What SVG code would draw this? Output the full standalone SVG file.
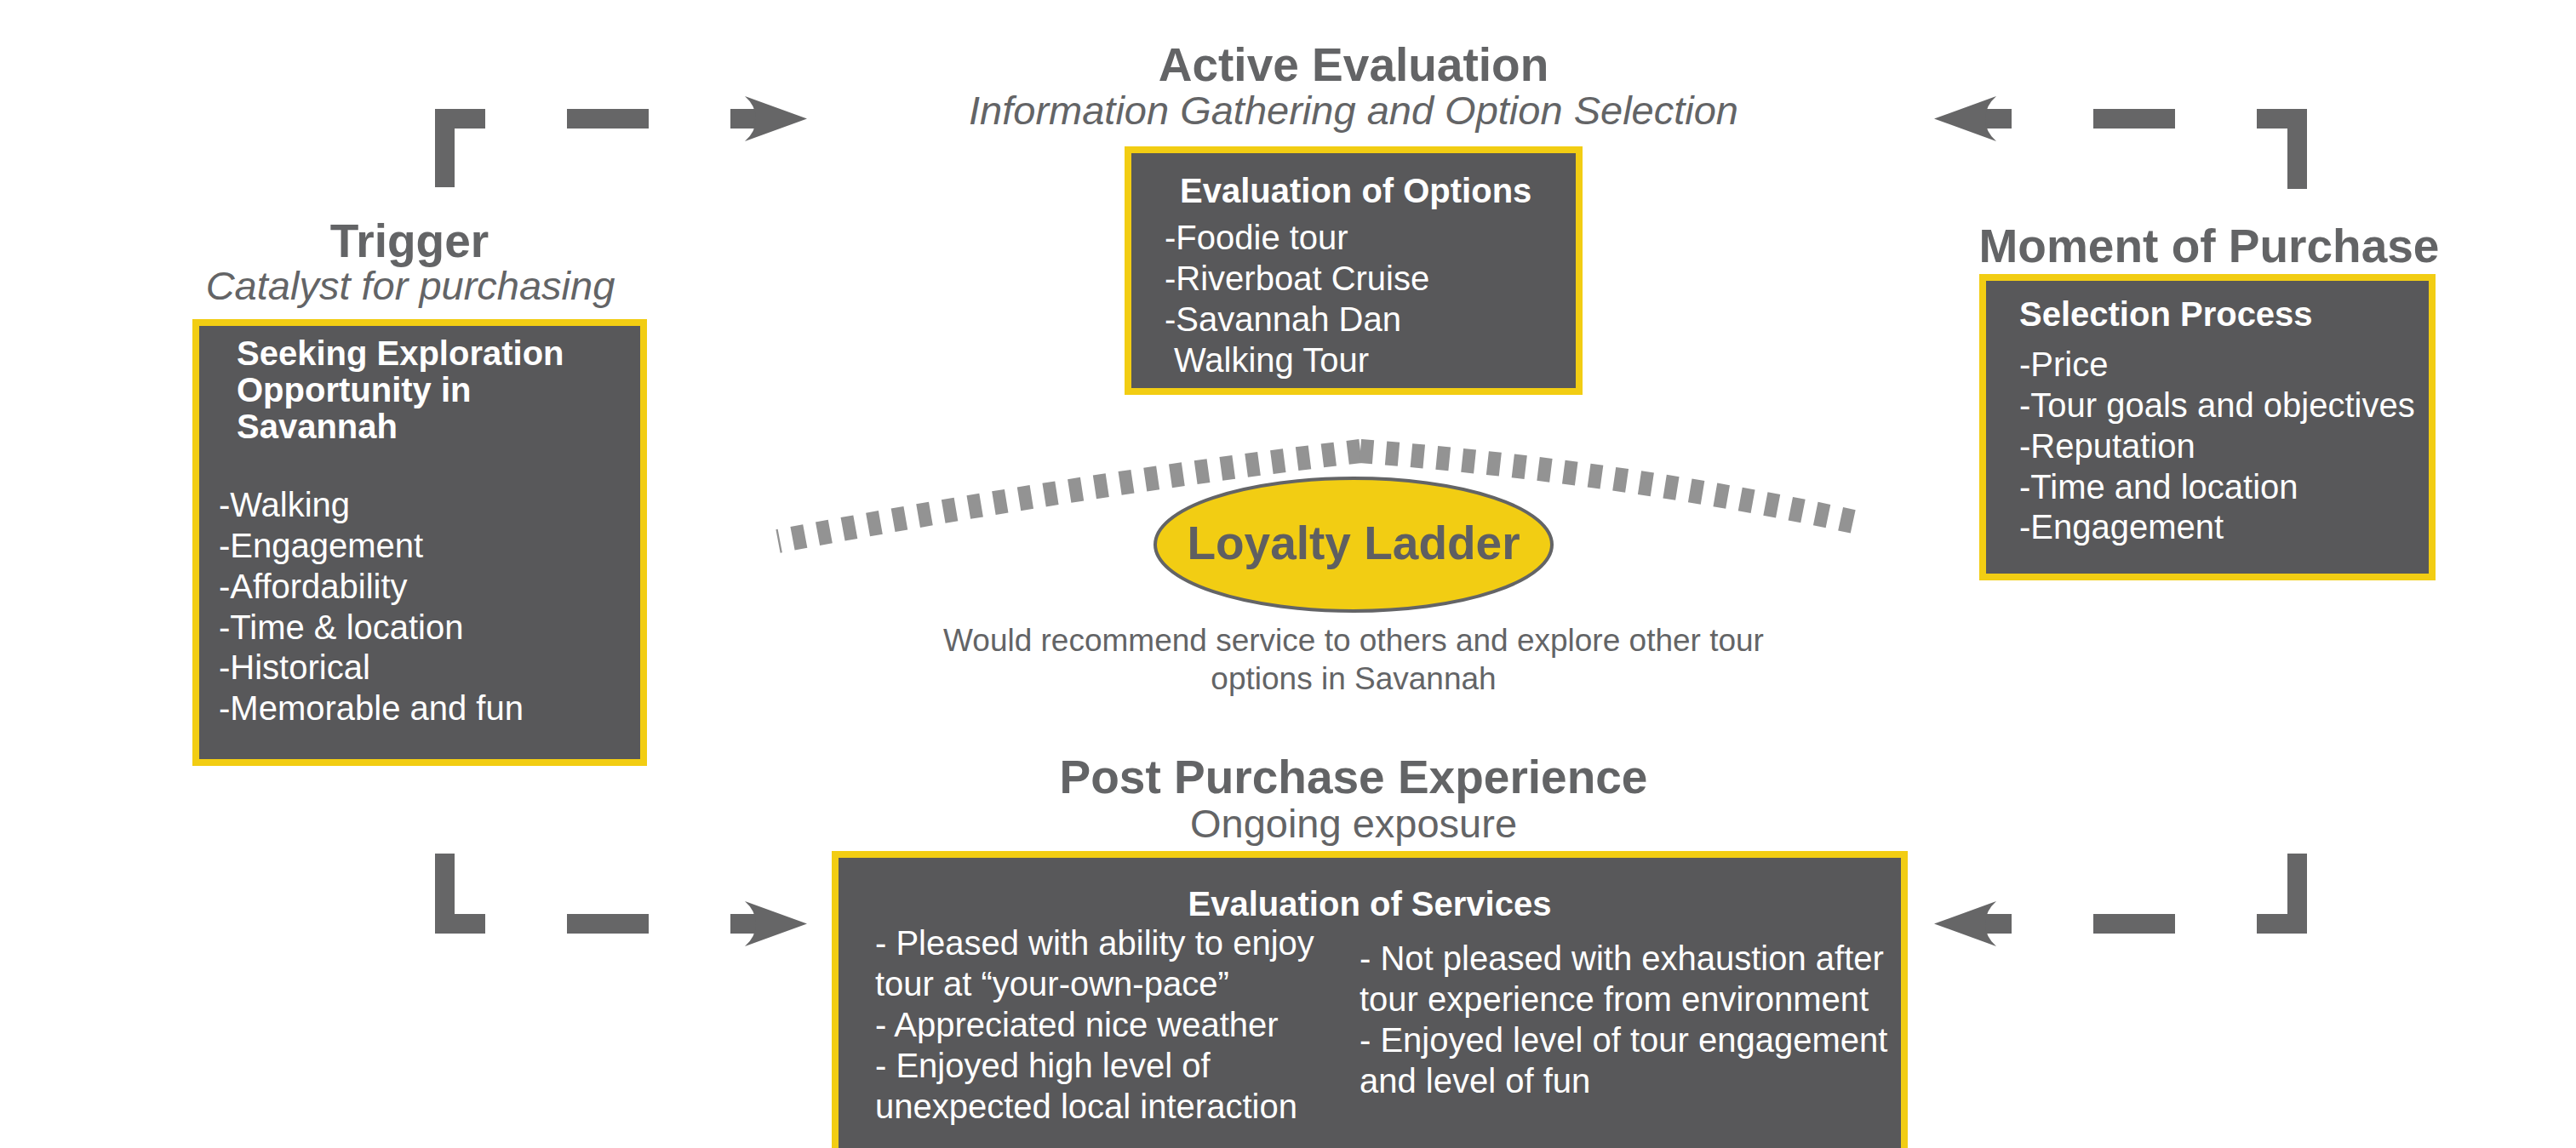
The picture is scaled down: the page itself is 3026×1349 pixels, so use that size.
<svg xmlns="http://www.w3.org/2000/svg" width="3026" height="1349" viewBox="0 0 3026 1349">
  <style>
    text { font-family: "Liberation Sans", Arial, sans-serif; }
    .title { font-size: 55px; font-weight: bold; fill: #636466; text-anchor: middle; }
    .sub { font-size: 47px; font-style: italic; fill: #636466; text-anchor: middle; }
    .subr { font-size: 47px; fill: #636466; text-anchor: middle; }
    .box { fill: #58585A; stroke: #F2CD13; stroke-width: 8; }
    .head { font-size: 40px; font-weight: bold; fill: #FFFFFF; }
    .item { font-size: 40px; fill: #FFFFFF; }
    .bar { fill: none; stroke: #666667; stroke-width: 23; stroke-linecap: butt; stroke-linejoin: miter; }
    .tip { fill: #666667; }
    .rung { fill: none; stroke: #939393; stroke-width: 28; stroke-dasharray: 15 15; }
    .note { font-size: 37px; fill: #636466; text-anchor: middle; }
  </style>
  <defs>
    <!-- right-pointing arrowhead with concave back, tip at origin -->
    <path id="head" d="M0 0 L-73 -26.5 Q-60 -15 -60 0 Q-60 15 -73 26.5 Z"/>
  </defs>
  <rect width="3026" height="1349" fill="#FFFFFF"/>

  <!-- Dashed loop connectors between the stages -->
  <g id="connectors">
    <!-- top left: Trigger to Active Evaluation -->
    <path class="bar" d="M522.5 220 V139.5 H570"/>
    <path class="bar" d="M666 139.5 H762"/>
    <path class="bar" d="M858 139.5 H892"/>
    <use href="#head" class="tip" transform="translate(948 139.5)"/>
    <!-- top right: Moment of Purchase to Active Evaluation -->
    <path class="bar" d="M2698.5 222 V139.5 H2651"/>
    <path class="bar" d="M2555 139.5 H2459"/>
    <path class="bar" d="M2363 139.5 H2329"/>
    <use href="#head" class="tip" transform="translate(2272 139.5) scale(-1 1)"/>
    <!-- bottom left: Trigger to Post Purchase -->
    <path class="bar" d="M522.5 1003 V1085.5 H570"/>
    <path class="bar" d="M666 1085.5 H762"/>
    <path class="bar" d="M858 1085.5 H892"/>
    <use href="#head" class="tip" transform="translate(948 1085.5)"/>
    <!-- bottom right: Moment of Purchase to Post Purchase -->
    <path class="bar" d="M2698.5 1003 V1085.5 H2651"/>
    <path class="bar" d="M2555 1085.5 H2459"/>
    <path class="bar" d="M2363 1085.5 H2329"/>
    <use href="#head" class="tip" transform="translate(2272 1085.5) scale(-1 1)"/>
  </g>

  <!-- Trigger stage -->
  <g id="trigger">
    <text class="title" x="481" y="302">Trigger</text>
    <text class="sub" x="482" y="352">Catalyst for purchasing</text>
    <rect class="box" x="230" y="379" width="526" height="517"/>
    <text class="head" x="278" y="429">Seeking Exploration</text>
    <text class="head" x="278" y="472">Opportunity in</text>
    <text class="head" x="278" y="515">Savannah</text>
    <text class="item" x="257" y="607">-Walking</text>
    <text class="item" x="257" y="655">-Engagement</text>
    <text class="item" x="257" y="703">-Affordability</text>
    <text class="item" x="257" y="751">-Time &amp; location</text>
    <text class="item" x="257" y="798">-Historical</text>
    <text class="item" x="257" y="846">-Memorable and fun</text>
  </g>

  <!-- Active Evaluation stage -->
  <g id="active-evaluation">
    <text class="title" x="1590" y="95">Active Evaluation</text>
    <text class="sub" x="1590" y="146">Information Gathering and Option Selection</text>
    <rect class="box" x="1325" y="176" width="530" height="284"/>
    <text class="head" x="1386" y="238">Evaluation of Options</text>
    <text class="item" x="1368" y="293">-Foodie tour</text>
    <text class="item" x="1368" y="341">-Riverboat Cruise</text>
    <text class="item" x="1368" y="389">-Savannah Dan</text>
    <text class="item" x="1379" y="437">Walking Tour</text>
  </g>

  <!-- Moment of Purchase stage -->
  <g id="moment-of-purchase">
    <text class="title" x="2595" y="308">Moment of Purchase</text>
    <rect class="box" x="2329" y="326" width="528" height="352"/>
    <text class="head" x="2372" y="383">Selection Process</text>
    <text class="item" x="2372" y="442">-Price</text>
    <text class="item" x="2372" y="490">-Tour goals and objectives</text>
    <text class="item" x="2372" y="538">-Reputation</text>
    <text class="item" x="2372" y="586">-Time and location</text>
    <text class="item" x="2372" y="633">-Engagement</text>
  </g>

  <!-- Loyalty Ladder in the middle: two dashed rungs meeting at the peak -->
  <g id="loyalty-ladder">
    <path class="rung" d="M1598 530 Q1256 571 914 636"/>
    <path class="rung" d="M1598 530 Q1913 555 2182 614"/>
    <ellipse cx="1590" cy="640" rx="233" ry="78" fill="#F2CD13" stroke="#636466" stroke-width="4"/>
    <text class="title" x="1590" y="657" style="fill:#5F5F61">Loyalty Ladder</text>
    <text class="note" x="1590" y="765">Would recommend service to others and explore other tour</text>
    <text class="note" x="1590" y="810">options in Savannah</text>
  </g>

  <!-- Post Purchase stage -->
  <g id="post-purchase">
    <text class="title" x="1590" y="932">Post Purchase Experience</text>
    <text class="subr" x="1590" y="984">Ongoing exposure</text>
    <rect class="box" x="981" y="1004" width="1256" height="400"/>
    <text class="head" x="1609" y="1076" text-anchor="middle">Evaluation of Services</text>
    <text class="item" x="1028" y="1122">- Pleased with ability to enjoy</text>
    <text class="item" x="1028" y="1170">tour at “your-own-pace”</text>
    <text class="item" x="1028" y="1218">- Appreciated nice weather</text>
    <text class="item" x="1028" y="1266">- Enjoyed high level of</text>
    <text class="item" x="1028" y="1314">unexpected local interaction</text>
    <text class="item" x="1597" y="1140">- Not pleased with exhaustion after</text>
    <text class="item" x="1597" y="1188">tour experience from environment</text>
    <text class="item" x="1597" y="1236">- Enjoyed level of tour engagement</text>
    <text class="item" x="1597" y="1284">and level of fun</text>
  </g>
</svg>
